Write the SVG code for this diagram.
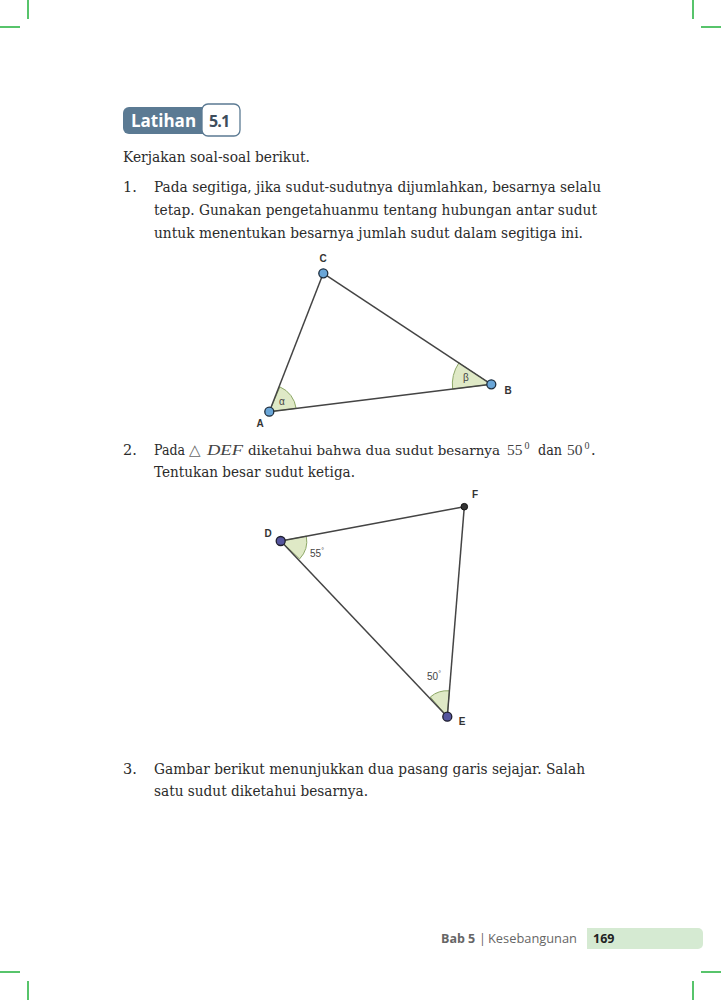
<svg xmlns="http://www.w3.org/2000/svg" width="721" height="1000" viewBox="0 0 721 1000">
<style>
.crop{stroke:#1fb03a;stroke-width:1.5;fill:none}
.body{font-family:"DejaVu Serif","Liberation Serif",serif;font-size:14.5px;fill:#2b2b2b}
.edge{stroke:#444;stroke-width:1.5;fill:none}
.arc{fill:#dfe9c6;stroke:#8ea868;stroke-width:1}
.lbl{font-family:"Liberation Sans",Arial,sans-serif;font-size:10px;font-weight:bold;fill:#333}
.ang{font-family:"Liberation Sans",Arial,sans-serif;font-size:10px;fill:#444}
.ptA{fill:#6aa6d8;stroke:#1e2e3e;stroke-width:1.3}
.ptD{fill:#55559e;stroke:#1e1e2e;stroke-width:1.3}
.math{font-family:"Liberation Serif",serif;font-size:15.5px;fill:#444}
.sup{font-family:"Liberation Serif",serif;font-size:10px;fill:#444}
</style>
<rect width="721" height="1000" fill="#fff"/>
<g id="crop-marks">
<line class="crop" x1="28" y1="0" x2="28" y2="19"/>
<line class="crop" x1="0" y1="27" x2="20" y2="27"/>
<line class="crop" x1="693" y1="0" x2="693" y2="19"/>
<line class="crop" x1="701" y1="27" x2="721" y2="27"/>
<line class="crop" x1="28" y1="981" x2="28" y2="1000"/>
<line class="crop" x1="0" y1="972" x2="20" y2="972"/>
<line class="crop" x1="693" y1="981" x2="693" y2="1000"/>
<line class="crop" x1="701" y1="972" x2="721" y2="972"/>
</g>
<g id="badge">
<rect x="123" y="107" width="86" height="27" rx="6" fill="#5b7a93"/>
<rect x="202" y="104" width="38" height="32" rx="6" fill="#fff" stroke="#5b7a93" stroke-width="1.3"/>
<text x="131" y="127" font-family="'Open Sans','Liberation Sans',sans-serif" font-size="17" font-weight="bold" fill="#fff">Latihan</text>
<text x="209" y="127" font-family="'Open Sans','Liberation Sans',sans-serif" font-size="16" font-weight="bold" fill="#3d4d5c" letter-spacing="-0.8">5.1</text>
</g>
<g id="text" class="body">
<text x="123" y="162" textLength="187" lengthAdjust="spacingAndGlyphs">Kerjakan soal-soal berikut.</text>
<text x="123" y="192">1.</text>
<text x="154" y="192" textLength="447" lengthAdjust="spacingAndGlyphs">Pada segitiga, jika sudut-sudutnya dijumlahkan, besarnya selalu</text>
<text x="154" y="215" textLength="443" lengthAdjust="spacingAndGlyphs">tetap. Gunakan pengetahuanmu tentang hubungan antar sudut</text>
<text x="154" y="238" textLength="429" lengthAdjust="spacingAndGlyphs">untuk menentukan besarnya jumlah sudut dalam segitiga ini.</text>
<text x="123" y="455">2.</text>
<text x="154" y="455"><tspan x="154" textLength="31" lengthAdjust="spacingAndGlyphs">Pada</tspan><tspan x="189" font-family="'DejaVu Sans',sans-serif" font-size="15" font-weight="300" fill="#666">△</tspan><tspan class="math" x="207" font-style="italic" textLength="36" lengthAdjust="spacingAndGlyphs">DEF</tspan><tspan x="248" font-size="13.2" textLength="252" lengthAdjust="spacingAndGlyphs">diketahui bahwa dua sudut besarnya</tspan><tspan class="math" x="507">55</tspan><tspan class="sup" x="524.5" y="449">0</tspan><tspan x="538" y="455" textLength="24" lengthAdjust="spacingAndGlyphs">dan</tspan><tspan class="math" x="567">50</tspan><tspan class="sup" x="584.5" y="449">0</tspan><tspan x="591" y="455">.</tspan></text>
<text x="154" y="477" textLength="201" lengthAdjust="spacingAndGlyphs">Tentukan besar sudut ketiga.</text>
<text x="123" y="774">3.</text>
<text x="154" y="774" textLength="431" lengthAdjust="spacingAndGlyphs">Gambar berikut menunjukkan dua pasang garis sejajar. Salah</text>
<text x="154" y="796" textLength="214" lengthAdjust="spacingAndGlyphs">satu sudut diketahui besarnya.</text>
</g>
<g id="triangle-abc">
<path class="arc" d="M269.3,411.7 L279.9,386.9 A27,27 0 0 1 296.1,408.4 Z"/>
<path class="arc" d="M491.3,384.3 L458.9,362.9 A39,39 0 0 0 452.6,389.0 Z"/>
<g class="edges">
<line class="edge" x1="269.3" y1="411.7" x2="323.3" y2="273.3"/>
<line class="edge" x1="323.3" y1="273.3" x2="491.3" y2="384.3"/>
<line class="edge" x1="491.3" y1="384.3" x2="269.3" y2="411.7"/>
</g>
<text class="ang" x="282" y="405" text-anchor="middle">α</text>
<text class="ang" x="466" y="381" text-anchor="middle">β</text>
<g id="node-A"><circle class="ptA" cx="269.3" cy="411.7" r="4.5"/><text class="lbl" x="260" y="427" text-anchor="middle">A</text></g>
<g id="node-B"><circle class="ptA" cx="491.3" cy="384.3" r="4.5"/><text class="lbl" x="508" y="394" text-anchor="middle">B</text></g>
<g id="node-C"><circle class="ptA" cx="323.3" cy="273.3" r="4.5"/><text class="lbl" x="323" y="262" text-anchor="middle">C</text></g>
</g>
<g id="triangle-def">
<path class="arc" d="M280.7,541 L306.3,536.2 A26,26 0 0 1 299.6,558.9 Z"/>
<path class="arc" d="M447.3,716.7 L430.3,697.0 A26,26 0 0 1 449.4,690.8 Z"/>
<g class="edges">
<line class="edge" x1="280.7" y1="541" x2="464.3" y2="506.7"/>
<line class="edge" x1="464.3" y1="506.7" x2="447.3" y2="716.7"/>
<line class="edge" x1="447.3" y1="716.7" x2="280.7" y2="541"/>
</g>
<text class="ang" x="317" y="557" text-anchor="middle">55<tspan font-size="7" dy="-4">°</tspan></text>
<text class="ang" x="434" y="680" text-anchor="middle">50<tspan font-size="7" dy="-4">°</tspan></text>
<g id="node-D"><circle class="ptD" cx="280.7" cy="541" r="4.5"/><text class="lbl" x="268" y="537" text-anchor="middle">D</text></g>
<g id="node-E"><circle class="ptD" cx="447.3" cy="716.7" r="4.5"/><text class="lbl" x="462" y="725" text-anchor="middle">E</text></g>
<g id="node-F"><circle cx="464.3" cy="506.7" r="3.3" fill="#333" stroke="#111" stroke-width="1"/><text class="lbl" x="475" y="498" text-anchor="middle">F</text></g>
</g>
<g id="footer">
<path d="M587,928 H698 A5,5 0 0 1 703,933 V944 A5,5 0 0 1 698,949 H587 Z" fill="#d5ead2"/>
<text x="441" y="943" font-family="'Open Sans','Liberation Sans',sans-serif" font-size="12.5" fill="#666"><tspan font-weight="bold">Bab 5</tspan><tspan x="479">|</tspan><tspan x="488" textLength="89" lengthAdjust="spacingAndGlyphs">Kesebangunan</tspan></text>
<text x="593" y="943" font-family="'Open Sans','Liberation Sans',sans-serif" font-size="12.5" font-weight="bold" fill="#222">169</text>
</g>
</svg>
